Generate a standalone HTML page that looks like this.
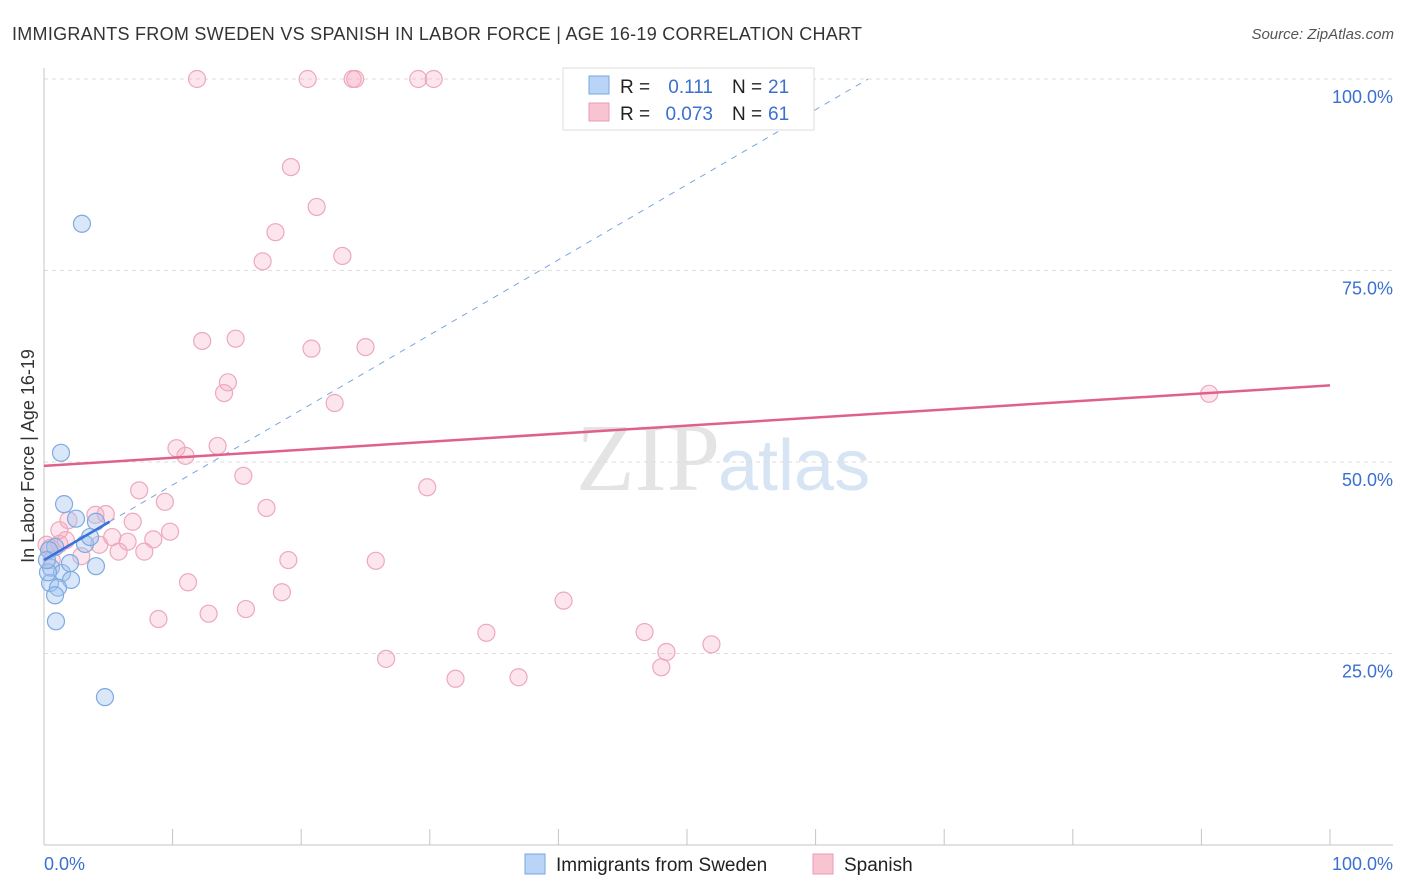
<!DOCTYPE html>
<html><head><meta charset="utf-8"><style>
body{margin:0;background:#fff;font-family:"Liberation Sans",sans-serif}
svg{display:block}
</style></head><body>
<svg id="chart" width="1406" height="892" xmlns="http://www.w3.org/2000/svg">
<text x="12" y="40" font-size="18" fill="#333" textLength="850">IMMIGRANTS FROM SWEDEN VS SPANISH IN LABOR FORCE | AGE 16-19 CORRELATION CHART</text>
<text x="1394" y="39" font-size="15" font-style="italic" fill="#555" text-anchor="end">Source: ZipAtlas.com</text>
<text x="720" y="490" font-size="96" font-family="Liberation Serif" fill="#e4e4e4" text-anchor="end">ZIP</text>
<text x="718" y="490" font-size="72" fill="#d6e4f4">atlas</text>
<g id="grid"></g>
<g id="axes"></g>
<g id="marks"></g>
<text transform="translate(34,456) rotate(-90)" font-size="18" fill="#333" text-anchor="middle">In Labor Force | Age 16-19</text>
<text x="44" y="870" font-size="18" fill="#3a70d0">0.0%</text>
<text x="1393" y="870" font-size="18" fill="#3a70d0" text-anchor="end">100.0%</text>
<g>
<rect x="563" y="68" width="251" height="62" fill="#fff" stroke="#ddd"/>
<rect x="589" y="76" width="20" height="18" fill="#b8d4f6" stroke="#7aa6e0"/>
<rect x="589" y="103" width="20" height="18" fill="#f9c4d2" stroke="#ec9ab2"/>
<text x="620" y="93" font-size="19" fill="#222">R =</text>
<text x="713" y="93" font-size="19" fill="#3a70d0" text-anchor="end">0.111</text>
<text x="732" y="93" font-size="19" fill="#222">N =</text>
<text x="768" y="93" font-size="19" fill="#3a70d0">21</text>
<text x="620" y="120" font-size="19" fill="#222">R =</text>
<text x="713" y="120" font-size="19" fill="#3a70d0" text-anchor="end">0.073</text>
<text x="732" y="120" font-size="19" fill="#222">N =</text>
<text x="768" y="120" font-size="19" fill="#3a70d0">61</text>
</g>
<g>
<rect x="525" y="854" width="20" height="20" fill="#b8d4f6" stroke="#7aa6e0"/>
<text x="556" y="871" font-size="19" fill="#222">Immigrants from Sweden</text>
<rect x="813" y="854" width="20" height="20" fill="#f9c4d2" stroke="#ec9ab2"/>
<text x="844" y="871" font-size="19" fill="#222">Spanish</text>
</g>
</svg>
<script>
const yTicks=[25,50,75,100];
const yTickLabels=["25.0%","50.0%","75.0%","100.0%"];
const xTicks=[0,10,20,30,40,50,60,70,80,90,100];
const swedenX=[2.95,1.32,1.56,2.49,4.04,3.19,3.58,0.86,0.39,4.04,0.54,1.40,2.10,0.47,1.09,0.86,0.93,4.74,0.31,0.23,2.02];
const swedenY=[81.1,51.2,44.5,42.6,42.2,39.3,40.2,38.9,38.5,36.4,36.2,35.5,34.6,34.2,33.6,32.6,29.2,19.3,35.6,37.2,36.8];
const spanishX=[11.9,20.5,24.0,24.2,29.1,30.3,19.2,21.2,18.0,23.2,17.0,12.3,14.9,20.8,25.0,14.3,14.0,22.6,90.6,10.3,13.5,11.0,15.5,29.8,7.4,9.4,17.3,4.0,4.8,1.9,6.9,1.2,9.8,5.3,8.5,6.5,4.3,0.2,1.2,5.8,7.8,2.9,19.0,25.8,11.2,18.5,40.4,15.7,12.8,8.9,34.4,46.7,26.6,51.9,48.4,48.0,32.0,36.9,0.6,1.7,0.5];
const spanishY=[100,100,100,100,100,100,88.5,83.3,80.0,76.9,76.2,65.8,66.1,64.8,65.0,60.4,59.0,57.7,58.9,51.8,52.1,50.8,48.2,46.7,46.3,44.8,44.0,43.1,43.2,42.4,42.2,41.1,40.9,40.2,39.9,39.6,39.2,39.2,39.3,38.3,38.3,37.7,37.2,37.1,34.3,33.0,31.9,30.8,30.2,29.5,27.7,27.8,24.3,26.2,25.2,23.2,21.7,21.9,37.2,39.8,38.8];
const swedenTrend=[37.2,0.98];
const spanishTrend=[49.5,60.0];
const X=v=>44+v*12.86, Y=v=>845-v*7.66;
const NS="http://www.w3.org/2000/svg";
function mk(t,a,p){const e=document.createElementNS(NS,t);for(const k in a)e.setAttribute(k,a[k]);p.appendChild(e);return e;}
const grid=document.getElementById('grid'),axes=document.getElementById('axes'),marks=document.getElementById('marks');
yTicks.forEach((t,i)=>{
 const l=mk('line',{x1:44,x2:1393,y1:Y(t),y2:Y(t),stroke:'#ddd','stroke-dasharray':'4,4'},grid);
 
 
 const tx=mk('text',{x:1393,y:Y(t)+24,'font-size':18,fill:'#3a70d0','text-anchor':'end'},grid);
 tx.textContent=yTickLabels[i];
 
 
});
const ax=mk('line',{x1:44,x2:44,y1:68,y2:845,stroke:'#c4c4c4'},axes);


const bx=mk('line',{x1:44,x2:1393,y1:845,y2:845,stroke:'#c4c4c4'},axes);


xTicks.forEach(t=>{const l=mk('line',{x1:X(t),x2:X(t),y1:829,y2:845,stroke:'#c4c4c4'},axes);
 
 });
spanishX.forEach((v,i)=>{const c=mk('circle',{cx:X(v),cy:Y(spanishY[i]),r:8.5,fill:'rgba(244,170,192,0.3)',stroke:'#eda8bc','stroke-width':1.2},marks);
 
 });
swedenX.forEach((v,i)=>{const c=mk('circle',{cx:X(v),cy:Y(swedenY[i]),r:8.5,fill:'rgba(160,196,240,0.4)',stroke:'#7eaae2','stroke-width':1.2},marks);
 
 });
const xEnd=(100-swedenTrend[0])/swedenTrend[1];
const d=mk('line',{x1:X(5.1),y1:Y(swedenTrend[0]+5.1*swedenTrend[1]),x2:X(xEnd),y2:Y(100),stroke:'#7aa6e0','stroke-dasharray':'6,6','stroke-width':1},marks);


const s=mk('line',{x1:X(0),y1:Y(swedenTrend[0]),x2:X(5.1),y2:Y(swedenTrend[0]+5.1*swedenTrend[1]),stroke:'#3a70d8','stroke-width':2.5},marks);


const p=mk('line',{x1:X(0),y1:Y(spanishTrend[0]),x2:X(100),y2:Y(spanishTrend[1]),stroke:'#e0608a','stroke-width':2.5},marks);


</script>
</body></html>
